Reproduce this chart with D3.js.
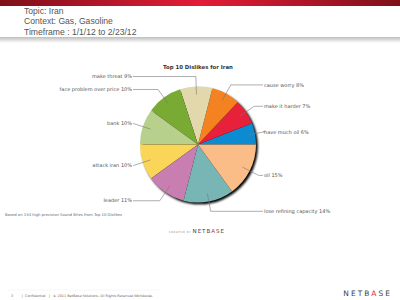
<!DOCTYPE html>
<html>
<head>
<meta charset="utf-8">
<script src="https://cdn.jsdelivr.net/npm/d3@7"></script>
<style>
  body { margin: 0; background: #fff; }
  svg { display: block; }
</style>
</head>
<body>
<svg></svg>
<script>
    // data, going counter-clockwise from 3 o'clock
    labels = ["have much oil", "make it harder", "cause worry", "make threat", "face problem over price",
              "bank", "attack iran", "leader", "lose refining capacity", "oil"];
    values = [6, 7, 8, 9, 10, 10, 10, 11, 14, 15];
    colors = ["#0b8bd2", "#e8213a", "#f58220", "#e2d8ab", "#79aa33",
              "#b7d18d", "#f9d558", "#c97eb2", "#78b5b5", "#fbbd88"];
    headerLines = ["Topic: Iran", "Context: Gas, Gasoline", "Timeframe : 1/1/12 to 2/23/12"];

    svg = d3.select("svg").attr("width", 400).attr("height", 300);
    defs = svg.append("defs");

    //top red band
    g1 = defs.append("linearGradient").attr("id", "band");
    g1.append("stop").attr("offset", "0%").attr("stop-color", "#7d1019");
    g1.append("stop").attr("offset", "50%").attr("stop-color", "#e31c38");
    g1.append("stop").attr("offset", "100%").attr("stop-color", "#7d1019");
    svg.append("rect").attr("x", 0).attr("y", 0).attr("width", 400).attr("height", 6).attr("fill", "url(#band)");

    //gray shade under header
    g2 = defs.append("linearGradient").attr("id", "shade").attr("x1", 0).attr("x2", 0).attr("y1", 0).attr("y2", 1);
    g2.append("stop").attr("offset", "0%").attr("stop-color", "#bdbdbd");
    g2.append("stop").attr("offset", "100%").attr("stop-color", "#ffffff");
    svg.append("rect").attr("x", 0).attr("y", 37).attr("width", 400).attr("height", 6).attr("fill", "url(#shade)");

    svg.append("g").selectAll("text").data(headerLines).enter().append("text")
    .attr("x", 24)
    .attr("y", function(d, i){return 14 + i * 10.3;})
    .attr("font-family", "Liberation Sans, sans-serif")
    .attr("font-size", 8.6)
    .attr("fill", "#555")
    .text(function(d){return d;});

    //title
    svg.append("text")
    .attr("x", 198).attr("y", 68.5)
    .attr("text-anchor", "middle")
    .attr("font-family", "DejaVu Sans, sans-serif")
    .attr("font-weight", "bold")
    .attr("font-size", 5.4)
    .attr("fill", "#333")
    .text("Top 10 Dislikes for Iran");

    //pie
    cx = 198; cy = 144.5; r = 58;
    pie = d3.pie().sort(null).startAngle(Math.PI / 2).endAngle(Math.PI / 2 - 2 * Math.PI);
    arcs = pie(values);
    arc = d3.arc().innerRadius(0).outerRadius(r);
    inner = d3.arc().innerRadius(50).outerRadius(50);
    outer = d3.arc().innerRadius(68).outerRadius(68);

    defs.append("filter").attr("id", "blur").append("feGaussianBlur").attr("stdDeviation", 0.8);

    pg = svg.append("g").attr("transform", "translate(" + cx + "," + cy + ")");
    pg.append("circle").attr("cx", 1.8).attr("cy", 1.8).attr("r", r).attr("fill", "#000").attr("filter", "url(#blur)");
    pg.selectAll("path.slice").data(arcs).enter().append("path")
    .attr("class", "slice")
    .attr("d", arc)
    .attr("fill", function(d, i){return colors[i];});

    //leader lines and labels
    function side(d){ return inner.centroid(d)[0] >= 0 ? 1 : -1; }
    pg.selectAll("polyline").data(arcs).enter().append("polyline")
    .attr("fill", "none")
    .attr("stroke", "#777")
    .attr("stroke-width", 0.6)
    .attr("points", function(d){
        a = inner.centroid(d); b = outer.centroid(d);
        return [a, b, [side(d) * 65, b[1]]].map(function(p){return p.join(",");}).join(" ");
    });
    pg.selectAll("text").data(arcs).enter().append("text")
    .attr("x", function(d){return side(d) * 66;})
    .attr("y", function(d){return outer.centroid(d)[1];})
    .attr("dy", "0.35em")
    .attr("text-anchor", function(d){return side(d) > 0 ? "start" : "end";})
    .attr("font-family", "DejaVu Sans, sans-serif")
    .attr("font-size", 5)
    .attr("fill", "#555")
    .text(function(d, i){return labels[i] + " " + values[i] + "%";});

    //footnote
    svg.append("text")
    .attr("x", 5).attr("y", 215.5)
    .attr("font-family", "DejaVu Sans, sans-serif")
    .attr("font-size", 3.8)
    .attr("fill", "#5a6a80")
    .text("Based on  134 high precision Sound Bites from Top 10 Dislikes");

    //created by
    cb = svg.append("text").attr("x", 197).attr("y", 233).attr("text-anchor", "middle")
    .attr("font-family", "DejaVu Sans, sans-serif");
    cb.append("tspan").attr("font-size", 2.6).attr("fill", "#888").attr("letter-spacing", 0.6).text("CREATED BY ");
    cb.append("tspan").attr("font-size", 5.5).attr("fill", "#444").attr("letter-spacing", 1).text("NETB");
    cb.append("tspan").attr("font-size", 5.5).attr("fill", "#d0243c").attr("letter-spacing", 1).text("A");
    cb.append("tspan").attr("font-size", 5.5).attr("fill", "#444").attr("letter-spacing", 1).text("SE");

    //footer
    svg.append("line").attr("x1", 8).attr("x2", 160).attr("y1", 290).attr("y2", 290).attr("stroke", "#eee").attr("stroke-width", 0.5);
    svg.append("text")
    .attr("x", 11).attr("y", 296.5)
    .attr("font-family", "DejaVu Sans, sans-serif")
    .attr("font-size", 3.4)
    .attr("fill", "#666")
    .attr("xml:space", "preserve")
    .text("3        |  Confidential   |   © 2011 NetBase Solutions. All Rights Reserved Worldwide.");

    nb = svg.append("text").attr("x", 392).attr("y", 295.5).attr("text-anchor", "end")
    .attr("font-family", "DejaVu Sans, sans-serif").attr("font-size", 7.5).attr("letter-spacing", 2);
    nb.append("tspan").attr("fill", "#444").text("NETB");
    nb.append("tspan").attr("fill", "#d0243c").text("A");
    nb.append("tspan").attr("fill", "#444").text("SE");
</script>
</body>
</html>
